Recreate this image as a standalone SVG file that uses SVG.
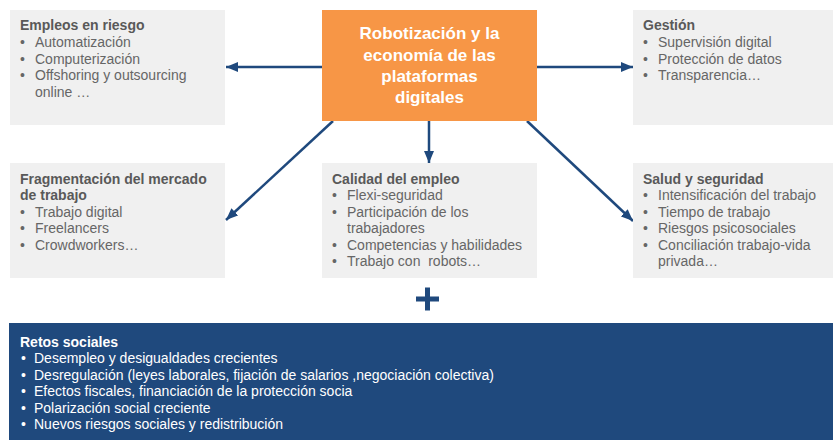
<svg xmlns="http://www.w3.org/2000/svg" width="833" height="440" viewBox="0 0 833 440">
<defs>
<marker id="ah" viewBox="0 0 12 10" refX="12" refY="5" markerWidth="12" markerHeight="10" markerUnits="userSpaceOnUse" orient="auto">
<path d="M0,0 L12,5 L0,10 Z" fill="#1F497D"/>
</marker>
<style>
.box{fill:#F0F0F0}
.t{font-family:"Liberation Sans",Arial,sans-serif;font-size:14px;fill:#666666}
.h{font-weight:bold;fill:#595959}
.w{font-family:"Liberation Sans",Arial,sans-serif;font-size:14px;fill:#FFFFFF}
.c{font-family:"Liberation Sans",Arial,sans-serif;font-size:17px;font-weight:bold;fill:#FFFFFF;text-anchor:middle}
.ln{stroke:#1F497D;stroke-width:2.5;fill:none;marker-end:url(#ah)}
</style>
</defs>
<rect width="833" height="440" fill="#FFFFFF"/>

<g id="connectors">
<line class="ln" x1="322" y1="67" x2="226" y2="67"/>
<line class="ln" x1="537" y1="67" x2="633" y2="67"/>
<line class="ln" x1="429" y1="121" x2="429" y2="163"/>
<line class="ln" x1="333" y1="121" x2="226" y2="220"/>
<line class="ln" x1="527" y1="121" x2="633" y2="221"/>
</g>

<g id="center">
<rect x="322" y="10" width="215" height="111" fill="#F79646"/>
<text class="c" x="429.5" y="39">Robotización y la</text>
<text class="c" x="429.5" y="60.5">economía de las</text>
<text class="c" x="429.5" y="82">plataformas</text>
<text class="c" x="429.5" y="103">digitales</text>
</g>

<g id="empleos">
<rect class="box" x="10" y="10" width="215" height="115"/>
<text class="t h" x="20" y="30">Empleos en riesgo</text>
<text class="t" x="20" y="47">•<tspan x="35">Automatización</tspan></text>
<text class="t" x="20" y="63.5">•<tspan x="35">Computerización</tspan></text>
<text class="t" x="20" y="80">•<tspan x="35">Offshoring y outsourcing</tspan></text>
<text class="t" x="35" y="96.5">online …</text>
</g>

<g id="gestion">
<rect class="box" x="633" y="10" width="200" height="115"/>
<text class="t h" x="643" y="30">Gestión</text>
<text class="t" x="643" y="47">•<tspan x="658">Supervisión digital</tspan></text>
<text class="t" x="643" y="63.5">•<tspan x="658">Protección de datos</tspan></text>
<text class="t" x="643" y="80">•<tspan x="658">Transparencia…</tspan></text>
</g>

<g id="fragmentacion">
<rect class="box" x="10" y="163" width="215" height="115"/>
<text class="t h" x="20" y="183.5">Fragmentación del mercado</text>
<text class="t h" x="20" y="200">de trabajo</text>
<text class="t" x="20" y="216.5">•<tspan x="35">Trabajo digital</tspan></text>
<text class="t" x="20" y="233">•<tspan x="35">Freelancers</tspan></text>
<text class="t" x="20" y="249.5">•<tspan x="35">Crowdworkers…</tspan></text>
</g>

<g id="calidad">
<rect class="box" x="322" y="163" width="215" height="115"/>
<text class="t h" x="332" y="183.5">Calidad del empleo</text>
<text class="t" x="332" y="200">•<tspan x="347">Flexi-seguridad</tspan></text>
<text class="t" x="332" y="216.5">•<tspan x="347">Participación de los</tspan></text>
<text class="t" x="347" y="233">trabajadores</text>
<text class="t" x="332" y="249.5">•<tspan x="347">Competencias y habilidades</tspan></text>
<text class="t" x="332" y="266" xml:space="preserve">•<tspan x="347">Trabajo con  robots…</tspan></text>
</g>

<g id="salud">
<rect class="box" x="633" y="163" width="200" height="115"/>
<text class="t h" x="643" y="183.5">Salud y seguridad</text>
<text class="t" x="643" y="200">•<tspan x="658">Intensificación del trabajo</tspan></text>
<text class="t" x="643" y="216.5">•<tspan x="658">Tiempo de trabajo</tspan></text>
<text class="t" x="643" y="233">•<tspan x="658">Riesgos psicosociales</tspan></text>
<text class="t" x="643" y="249.5">•<tspan x="658">Conciliación trabajo-vida</tspan></text>
<text class="t" x="658" y="266">privada…</text>
</g>

<g id="plus">
<rect x="416" y="296.5" width="23" height="5" fill="#1F497D"/>
<rect x="425" y="287.5" width="5" height="23" fill="#1F497D"/>
</g>

<g id="retos">
<rect x="9" y="323" width="824" height="117" fill="#1F497D"/>
<text class="w" x="20" y="346.5" font-weight="bold">Retos sociales</text>
<text class="w" x="21" y="363">•<tspan x="34">Desempleo y desigualdades crecientes</tspan></text>
<text class="w" x="21" y="379.5">•<tspan x="34">Desregulación (leyes laborales, fijación de salarios ,negociación colectiva)</tspan></text>
<text class="w" x="21" y="396">•<tspan x="34">Efectos fiscales, financiación de la protección socia</tspan></text>
<text class="w" x="21" y="412.5">•<tspan x="34">Polarización social creciente</tspan></text>
<text class="w" x="21" y="429">•<tspan x="34">Nuevos riesgos sociales y redistribución</tspan></text>
</g>
</svg>
